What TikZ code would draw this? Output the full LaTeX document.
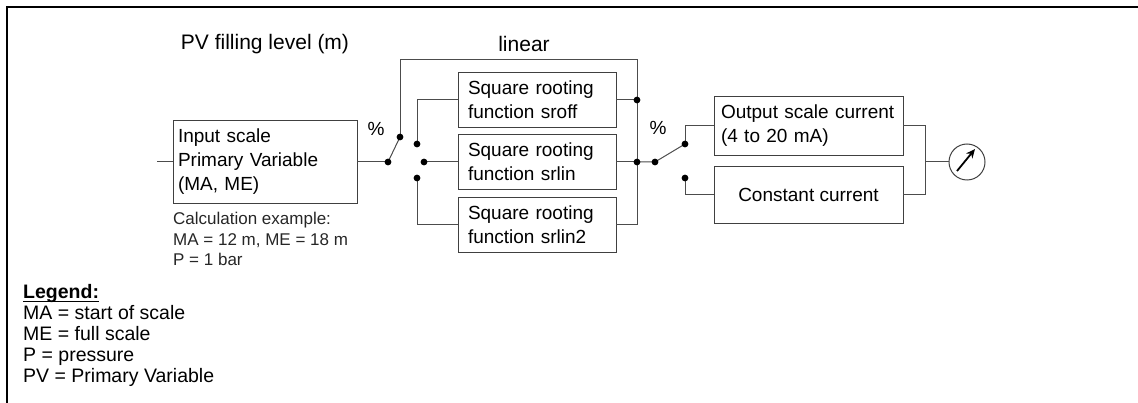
\documentclass[tikz,border=0pt]{standalone}
\usepackage{fontspec}
\setmainfont{Liberation Sans}
\usepackage{tikz}
\usetikzlibrary{arrows.meta}

\newcommand\legul[1]{\setbox0\hbox{#1}\usebox0\llap{\rule[-4pt]{\wd0}{1.3pt}}}

\tikzset{
	blk/.style={draw=black!75,line width=1pt,inner ysep=0pt,outer sep=0pt,font=\fontsize{19}{24}\selectfont},
	dot/.style={circle,inner sep=0pt,minimum size=6.5pt},
	wire/.style={draw=black!70,line width=1pt},
}

\begin{document}
\begin{tikzpicture}[x=1pt,y=-1pt]
	\useasboundingbox (0,0) rectangle (1138,403);
	\draw[line width=2.5pt] (7,403) -- (7,7) -- (1138,7);

	% blocks
	\begin{scope}[every node/.style={blk}]
	    \node[minimum width=184pt,minimum height=83pt,text width=174pt,inner xsep=5pt,align=left] (inp) at (265,162) {Input scale\\Primary Variable\\(MA, ME)};
	    \node[minimum width=158pt,minimum height=55pt,text width=138pt,inner xsep=10pt,align=left] (sroff) at (537,100) {Square rooting\\function sroff};
	    \node[minimum width=158pt,minimum height=55pt,text width=138pt,inner xsep=10pt,align=left] (srlin) at (537,162) {Square rooting\\function srlin};
	    \node[minimum width=158pt,minimum height=55pt,text width=138pt,inner xsep=10pt,align=left] (srlin2) at (537,225) {Square rooting\\function srlin2};
	    \node[minimum width=189pt,minimum height=59pt,text width=175pt,inner xsep=7pt,align=left] (outp) at (808.5,126) {Output scale current\\(4 to 20 mA)};
	    \node[minimum width=189pt,minimum height=57pt,align=center] (const) at (808.5,195) {Constant current};
	    \node[circle,minimum size=36pt,inner sep=0pt] (meter) at (967,162) {};
	\end{scope}

	% switch contacts
	\begin{scope}[every node/.style={dot}]
	    \node (d1) at (388,162) {};
	    \node (d2) at (400,137) {};
	    \node (c1) at (417,144) {};
	    \node (c2) at (424,162) {};
	    \node (c3) at (417,178) {};
	    \node (j1) at (637,100) {};
	    \node (j2) at (637,162) {};
	    \node (d3) at (655,162) {};
	    \node (d4) at (685,144) {};
	    \node (d5) at (685,178) {};
	\end{scope}

	\coordinate (in) at (157,162);
	\coordinate (top) at (637,60);
	\coordinate (j3) at (637,225);
	\coordinate (j4) at (925,162);

	% wiring
	\begin{scope}[every path/.style={wire}]
	    \path (in) edge (inp.west);
	    \path (inp.east) edge (d1.center);
	    \draw (d1.center) -- (d2.center);
	    \draw (d2.center) |- (top) -- (j3);
	    \draw (c1.center) |- (sroff.west);
	    \draw (c2.center) -- (srlin.west);
	    \draw (c3.center) |- (srlin2.west);
	    \draw (sroff.east) -- (j1.center);
	    \draw (srlin.east) -- (j2.center);
	    \draw (srlin2.east) -- (j3);
	    \draw (j2.center) -- (d3.center) -- (d4.center);
	    \draw (d4.center) |- (outp.west);
	    \draw (d5.center) |- (const.west);
	    \draw (outp.east) -| (j4);
	    \draw (const.east) -| (j4);
	    \draw (j4) -- (meter.west);
	\end{scope}
	\foreach \n in {d1,d2,c1,c2,c3,j1,j2,d3,d4,d5}
	    \fill (\n) circle (3.4pt);

	\draw[line width=1.8pt,-{Stealth[length=9pt,width=8pt]}] ([shift={(-10,9)}]meter.center) -- ([shift={(8,-13)}]meter.center);

	% labels
	\begin{scope}[every node/.style={font=\fontsize{21}{25}\selectfont,inner sep=0pt}]
	    \node (pv) at (265,44) {PV filling level (m)};
	    \node (lin) at (524,44) {linear};
	\end{scope}
	\node[font=\fontsize{19}{24}\selectfont,inner sep=0pt] (pc1) at (376,129) {\%};
	\node[font=\fontsize{19}{24}\selectfont,inner sep=0pt] (pc2) at (658,128) {\%};
	\node[font=\fontsize{17}{20.5}\selectfont,inner sep=0pt,anchor=north west,align=left,text=black!85] (calc) at (173,212) {Calculation example:\\MA = 12 m, ME = 18 m\\P = 1 bar};
	\node[font=\fontsize{19.5}{21}\selectfont,inner sep=0pt,anchor=north west,align=left] (leg) at (23,284) {\legul{\bfseries Legend:}\\MA = start of scale\\ME = full scale\\P = pressure\\PV = Primary Variable};
\end{tikzpicture}
\end{document}
